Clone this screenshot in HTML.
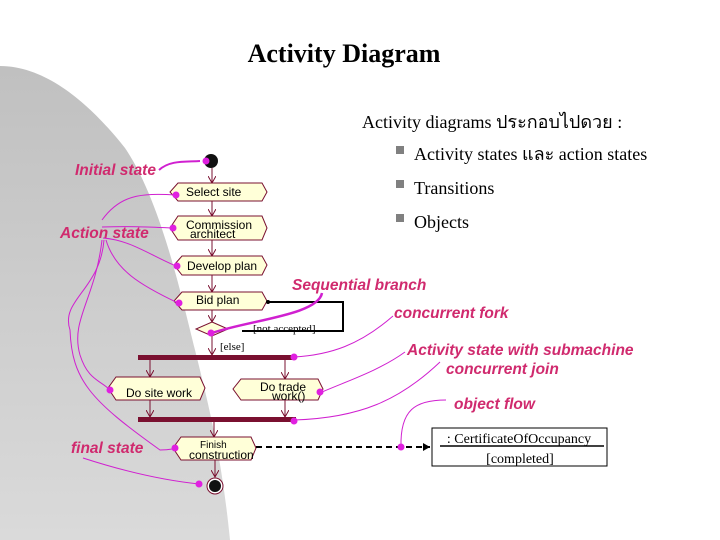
<!DOCTYPE html>
<html><head><meta charset="utf-8"><style>
html,body{margin:0;padding:0;background:#fff;}
svg{display:block}
.pk{font-family:"Liberation Sans",sans-serif;font-weight:bold;font-style:italic;fill:#d02a6e;font-size:15.5px}
.nd{font-family:"Liberation Sans",sans-serif;font-size:12px;fill:#000}
.sr{font-family:"Liberation Serif","DejaVu Serif",serif;fill:#000}
</style></head><body>
<svg width="720" height="540" viewBox="0 0 720 540" xmlns="http://www.w3.org/2000/svg">
<defs>
<linearGradient id="g" x1="0" y1="0" x2="0" y2="1"><stop offset="0" stop-color="#c0c0c0"/><stop offset="1" stop-color="#dadada"/></linearGradient>
<marker id="a" markerWidth="8" markerHeight="8" refX="7" refY="4" orient="auto" markerUnits="userSpaceOnUse"><path d="M0,0 L7,4 L0,8" fill="none" stroke="#7a1030" stroke-width="1"/></marker>
<marker id="b" markerWidth="8" markerHeight="8" refX="7" refY="4" orient="auto" markerUnits="userSpaceOnUse"><path d="M0,0 L7,4 L0,8Z" fill="#000"/></marker>
</defs>
<path d="M0,66 C50,66 95,110 125,148 C160,200 180,290 195,350 C210,410 222,460 230,540 L0,540Z" fill="url(#g)"/>
<text x="344" y="62" text-anchor="middle" class="sr" font-size="26" font-weight="bold">Activity Diagram</text>
<text x="362" y="128" class="sr" font-size="18">Activity diagrams ประกอบไปดวย  :</text>
<g class="sr" font-size="18">
<rect x="396" y="146" width="8" height="8" fill="#808080"/><text x="414" y="160">Activity states และ action states</text>
<rect x="396" y="180" width="8" height="8" fill="#808080"/><text x="414" y="194">Transitions</text>
<rect x="396" y="214" width="8" height="8" fill="#808080"/><text x="414" y="228">Objects</text>
</g>
<g stroke="#7a1030" stroke-width="1" fill="none" marker-end="url(#a)">
<line x1="212" y1="168" x2="212" y2="183"/>
<line x1="212" y1="201" x2="212" y2="216"/>
<line x1="212" y1="240" x2="212" y2="256"/>
<line x1="212" y1="275" x2="212" y2="292"/>
<line x1="212" y1="310" x2="212" y2="322"/>
<line x1="212" y1="336" x2="212" y2="355"/>
<line x1="150" y1="360" x2="150" y2="377"/>
<line x1="285" y1="360" x2="285" y2="379"/>
<line x1="150" y1="400" x2="150" y2="417"/>
<line x1="285" y1="400" x2="285" y2="417"/>
<line x1="214" y1="421" x2="214" y2="437"/>
<line x1="215" y1="460" x2="215" y2="477"/>
</g>
<circle cx="211" cy="161" r="7" fill="#111"/>
<g fill="#ffffd8" stroke="#7a1030" stroke-width="1">
<path d="M178,183 H262 L267,192 L262,201 H178 L170,192Z"/>
<path d="M178,216 H262 L267,228 L262,240 H178 L170,228Z"/>
<path d="M182,256 H262 L267,265 L262,275 H182 L174,265Z"/>
<path d="M182,292 H262 L267,301 L262,310 H182 L174,301Z"/>
<path d="M116,377 H200 L205,388 L200,400 H116 L108,388Z"/>
<path d="M241,379 H318 L323,389 L318,400 H241 L233,389Z"/>
<path d="M181,437 H251 L256,448 L251,460 H181 L173,448Z"/>
<path d="M212,322 L228,329 L212,336 L196,329Z"/>
</g>
<rect x="138" y="355" width="158" height="5" fill="#7a1030"/>
<rect x="138" y="417" width="158" height="5" fill="#7a1030"/>
<circle cx="215" cy="486" r="8" fill="#fff" stroke="#7a1030"/>
<circle cx="215" cy="486" r="6" fill="#111"/>
<g class="nd">
<text x="186" y="196">Select site</text>
<text x="186" y="229">Commission</text><text x="190" y="238">architect</text>
<text x="187" y="270">Develop plan</text>
<text x="196" y="304">Bid plan</text>
<text x="126" y="397">Do site work</text>
<text x="260" y="391">Do trade</text><text x="272" y="400">work()</text>
<text x="200" y="448" font-size="10">Finish</text><text x="189" y="459">construction</text>
</g>
<path d="M267,302 H343 V331 H242" fill="none" stroke="#000" stroke-width="2"/>
<circle cx="268" cy="302" r="2" fill="#000"/>
<text x="253" y="332" class="sr" font-size="11">[not accepted]</text>
<text x="220" y="350" class="sr" font-size="11">[else]</text>
<line x1="256" y1="447" x2="430" y2="447" stroke="#000" stroke-width="2" stroke-dasharray="6,4" marker-end="url(#b)"/>
<rect x="432" y="428" width="175" height="38" fill="#fff" stroke="#000"/>
<text x="519" y="443" text-anchor="middle" class="sr" font-size="14">: CertificateOfOccupancy</text>
<line x1="440" y1="446" x2="604" y2="446" stroke="#000" stroke-width="1.5"/>
<text x="520" y="463" text-anchor="middle" class="sr" font-size="14">[completed]</text>
<g stroke="#d020d0" stroke-width="1" fill="none">
<path d="M159,170 C170,160 185,162 200,161" stroke-width="2"/>
<path d="M102,220 C120,195 140,193 176,195"/>
<path d="M102,227 C130,226 150,227 173,228"/>
<path d="M103,238 C130,240 150,255 176,266"/>
<path d="M106,240 C115,270 140,285 178,303"/>
<path d="M104,240 C100,290 60,300 70,330 C72,380 90,400 160,450 C170,450 178,448 175,448"/>
<path d="M102,240 C95,300 70,320 80,355 C88,380 100,380 110,390"/>
<path d="M83,458 C120,470 160,480 199,484"/>
<path d="M322,293 C318,315 250,320 212,333" stroke-width="2.5"/>
<path d="M393,316 C360,345 330,355 294,357"/>
<path d="M405,352 C380,370 350,380 322,392"/>
<path d="M440,362 C400,400 360,418 294,420"/>
<path d="M446,400 C415,400 400,410 401,447"/>
</g>
<g fill="#e020e0">
<circle cx="206" cy="161" r="3.5"/><circle cx="176" cy="195" r="3.5"/><circle cx="173" cy="228" r="3.5"/>
<circle cx="177" cy="266" r="3.5"/><circle cx="179" cy="303" r="3.5"/><circle cx="211" cy="333" r="3.5"/>
<circle cx="294" cy="357" r="3.5"/><circle cx="320" cy="392" r="3.5"/><circle cx="294" cy="421" r="3.5"/>
<circle cx="110" cy="390" r="3.5"/><circle cx="175" cy="448" r="3.5"/><circle cx="199" cy="484" r="3.5"/>
<circle cx="401" cy="447" r="3.5"/>
</g>
<g class="pk">
<text x="75" y="175">Initial state</text>
<text x="60" y="238">Action state</text>
<text x="292" y="290">Sequential branch</text>
<text x="394" y="318">concurrent fork</text>
<text x="407" y="355">Activity state with submachine</text>
<text x="446" y="374">concurrent join</text>
<text x="454" y="409">object flow</text>
<text x="71" y="453">final state</text>
</g>
</svg>
</body></html>
